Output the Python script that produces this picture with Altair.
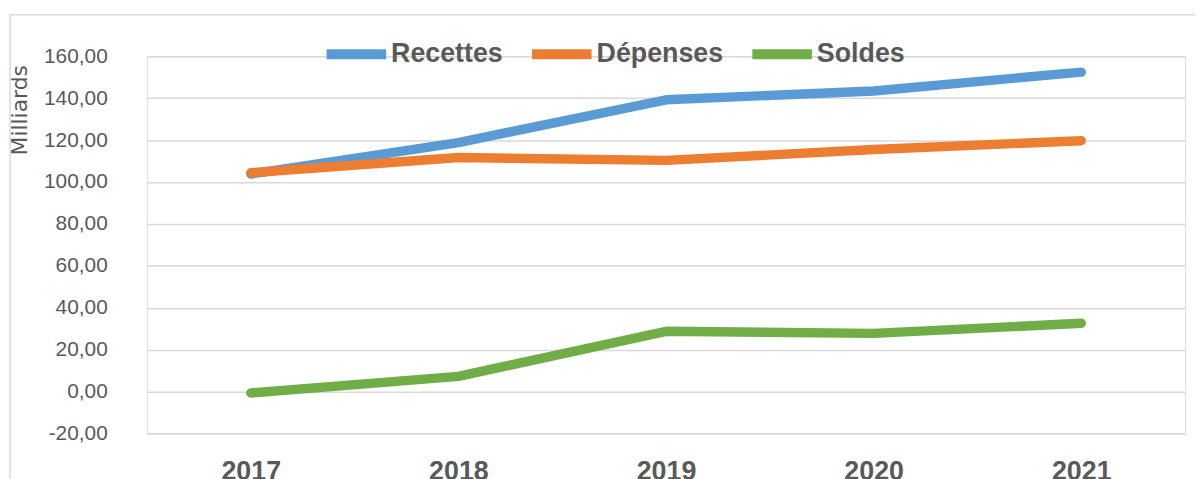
import altair as alt
import pandas as pd

years = ["2017", "2018", "2019", "2020", "2021"]
recettes = [103.8, 118.8, 139.2, 143.4, 152.4]
depenses = [104.4, 111.7, 110.3, 115.5, 119.7]
soldes = [-0.6, 7.3, 28.8, 27.8, 32.6]
series = ["Recettes", "Dépenses", "Soldes"]
colors = ["#5B9BD5", "#ED7D31", "#70AD47"]
y_ticks = [-20, 0, 20, 40, 60, 80, 100, 120, 140, 160]

rows = []
for name, vals in zip(series, [recettes, depenses, soldes]):
    for yr, v in zip(years, vals):
        rows.append({"Année": yr, "Série": name, "Valeur": v})
df = pd.DataFrame(rows)

FONT = "Liberation Sans"
GREY = "#595959"

label_expr = "(datum.value < 0 ? '-' : '') + replace(format(abs(datum.value), '.2f'), '.', ',')"

lines = alt.Chart(df).mark_line(
    strokeWidth=9.5, strokeCap="round", strokeJoin="round"
).encode(
    x=alt.X(
        "Année:O", sort=years, scale=alt.Scale(padding=0.5),
        axis=alt.Axis(
            title=None, labelAngle=0, labelFont=FONT, labelFontWeight="bold",
            labelFontSize=27, labelColor=GREY, labelPadding=25,
            domain=False, ticks=False, grid=False,
        ),
    ),
    y=alt.Y(
        "Valeur:Q", scale=alt.Scale(domain=[-20, 160], nice=False, zero=False),
        axis=alt.Axis(
            values=y_ticks, labelExpr=label_expr, grid=True, gridColor="#d9d9d9",
            gridWidth=1.5, domain=False, ticks=False, labelFont=FONT,
            labelFontSize=21, labelColor=GREY, labelPadding=40,
            title="Milliards", titleFont="DejaVu Sans", titleFontWeight="normal",
            titleFontSize=22, titleColor=GREY, titleAngle=270, titleX=-128,
            titleY=54, titleAlign="center", titleBaseline="middle",
        ),
    ),
    color=alt.Color(
        "Série:N", scale=alt.Scale(domain=series, range=colors),
        legend=alt.Legend(
            title=None, orient="none", legendX=176, legendY=-37,
            direction="horizontal", columns=3, symbolType="stroke",
            symbolSize=3600, symbolStrokeWidth=10, labelFont=FONT,
            labelFontSize=27, labelFontWeight="bold", labelColor=GREY,
            labelOffset=0, columnPadding=9, padding=0, symbolOpacity=1,
        ),
    ),
)

border = alt.Chart(pd.DataFrame({"a": [0]})).mark_rect(
    fillOpacity=0, stroke="#d9d9d9", strokeWidth=1.5, clip=False
).encode(
    x=alt.value(-138), x2=alt.value(1300), y=alt.value(-41.7), y2=alt.value(520)
)

chart = alt.layer(border, lines).properties(
    width=1046, height=380.3,
    autosize=alt.AutoSizeParams(type="none"),
    padding={"left": 140, "top": 46.7, "right": 10, "bottom": 60},
).configure_view(stroke=None).configure(background="white")

chart.save("out.html", embed_options={"renderer": "svg", "actions": False})
